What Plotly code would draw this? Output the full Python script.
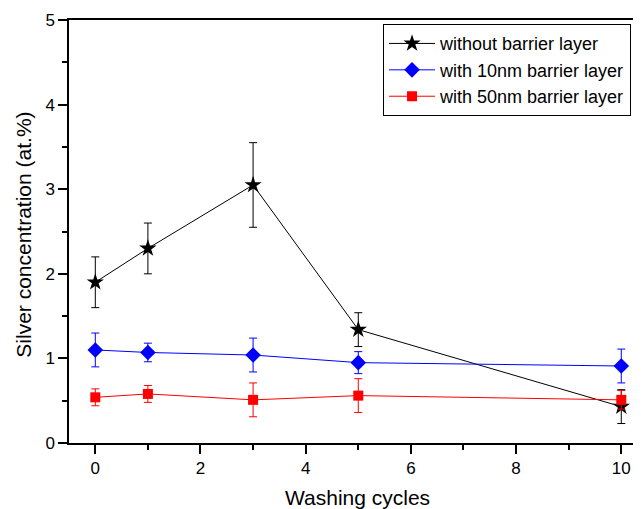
import plotly.graph_objects as go

cycles = [0, 1, 3, 5, 10]

no_barrier = [1.90, 2.30, 3.05, 1.34, 0.43]
no_barrier_err = [0.30, 0.30, 0.50, 0.20, 0.20]

barrier_10nm = [1.10, 1.07, 1.04, 0.95, 0.91]
barrier_10nm_err = [0.20, 0.11, 0.20, 0.13, 0.20]

barrier_50nm = [0.54, 0.58, 0.51, 0.56, 0.51]
barrier_50nm_err = [0.10, 0.10, 0.20, 0.20, 0.11]

x_ticks = [0, 2, 4, 6, 8, 10]
y_ticks = [0, 1, 2, 3, 4, 5]

FONT = "Liberation Sans, Arial, sans-serif"

fig = go.Figure()

series = [
    ("without barrier layer", no_barrier, no_barrier_err, "black", "star", 13),
    ("with 10nm barrier layer", barrier_10nm, barrier_10nm_err, "#0000FF", "diamond", 12),
    ("with 50nm barrier layer", barrier_50nm, barrier_50nm_err, "#FF0000", "square", 10),
]

for name, vals, errs, col, sym, size in series:
    fig.add_trace(go.Scatter(
        x=cycles, y=vals, name=name, mode="lines+markers",
        line=dict(color=col, width=1),
        marker=dict(symbol=sym, size=size, color=col, line=dict(width=0)),
        error_y=dict(type="data", array=errs, visible=True, color=col,
                     thickness=1, width=4),
    ))

xr = [-0.5, 10.375]
yr = [0, 5]

fig.update_layout(
    width=633, height=501,
    margin=dict(l=61, r=0, t=12, b=66),
    paper_bgcolor="white", plot_bgcolor="white",
    showlegend=True,
    font=dict(family=FONT, color="black"),
    xaxis=dict(
        range=xr, tickvals=x_ticks, ticks="outside", ticklen=9, tickwidth=1.5,
        tickcolor="black", showline=True, linewidth=1.5, linecolor="black",
        mirror=True, showgrid=False, zeroline=False,
        tickfont=dict(size=17, family=FONT, color="black"),
        minor=dict(dtick=1, tick0=0, ticks="outside", ticklen=5, tickwidth=1.5,
                   tickcolor="black", showgrid=False),
    ),
    yaxis=dict(
        range=yr, tickvals=y_ticks, ticks="outside", ticklen=9, tickwidth=1.5,
        tickcolor="black", showline=True, linewidth=1.5, linecolor="black",
        mirror=False, showgrid=False, zeroline=False,
        tickfont=dict(size=17, family=FONT, color="black"),
        minor=dict(dtick=0.5, tick0=0, ticks="outside", ticklen=5, tickwidth=1.5,
                   tickcolor="black", showgrid=False),
    ),
    xaxis2=dict(
        overlaying="x", side="top", range=xr, tickvals=x_ticks, ticks="inside",
        ticklen=8, tickwidth=1.5, tickcolor="black", showticklabels=False,
        showline=False, showgrid=False, zeroline=False,
        minor=dict(dtick=1, tick0=0, ticks="inside", ticklen=5, tickwidth=1.5,
                   tickcolor="black", showgrid=False),
    ),
    yaxis2=dict(
        overlaying="y", side="right", range=yr, tickvals=y_ticks, ticks="inside",
        ticklen=4, tickwidth=1.5, tickcolor="black", showticklabels=False,
        showline=False, showgrid=False, zeroline=False,
    ),
    legend=dict(
        x=0.549, y=0.99, xanchor="left", yanchor="top",
        bgcolor="white", bordercolor="black", borderwidth=1,
        font=dict(size=18, family=FONT, color="black"),
        tracegroupgap=0, itemwidth=46,
    ),
    annotations=[
        dict(text="Washing cycles", xref="paper", yref="paper", x=0.505, y=-0.128,
             xanchor="center", yanchor="middle", showarrow=False,
             font=dict(size=21, family=FONT, color="black")),
        dict(text="Silver concentration (at.%)", xref="paper", yref="paper",
             x=-0.080, y=0.493, xanchor="center", yanchor="middle", textangle=-90,
             showarrow=False, font=dict(size=21, family=FONT, color="black")),
    ],
)

fig.write_html("out.html")
